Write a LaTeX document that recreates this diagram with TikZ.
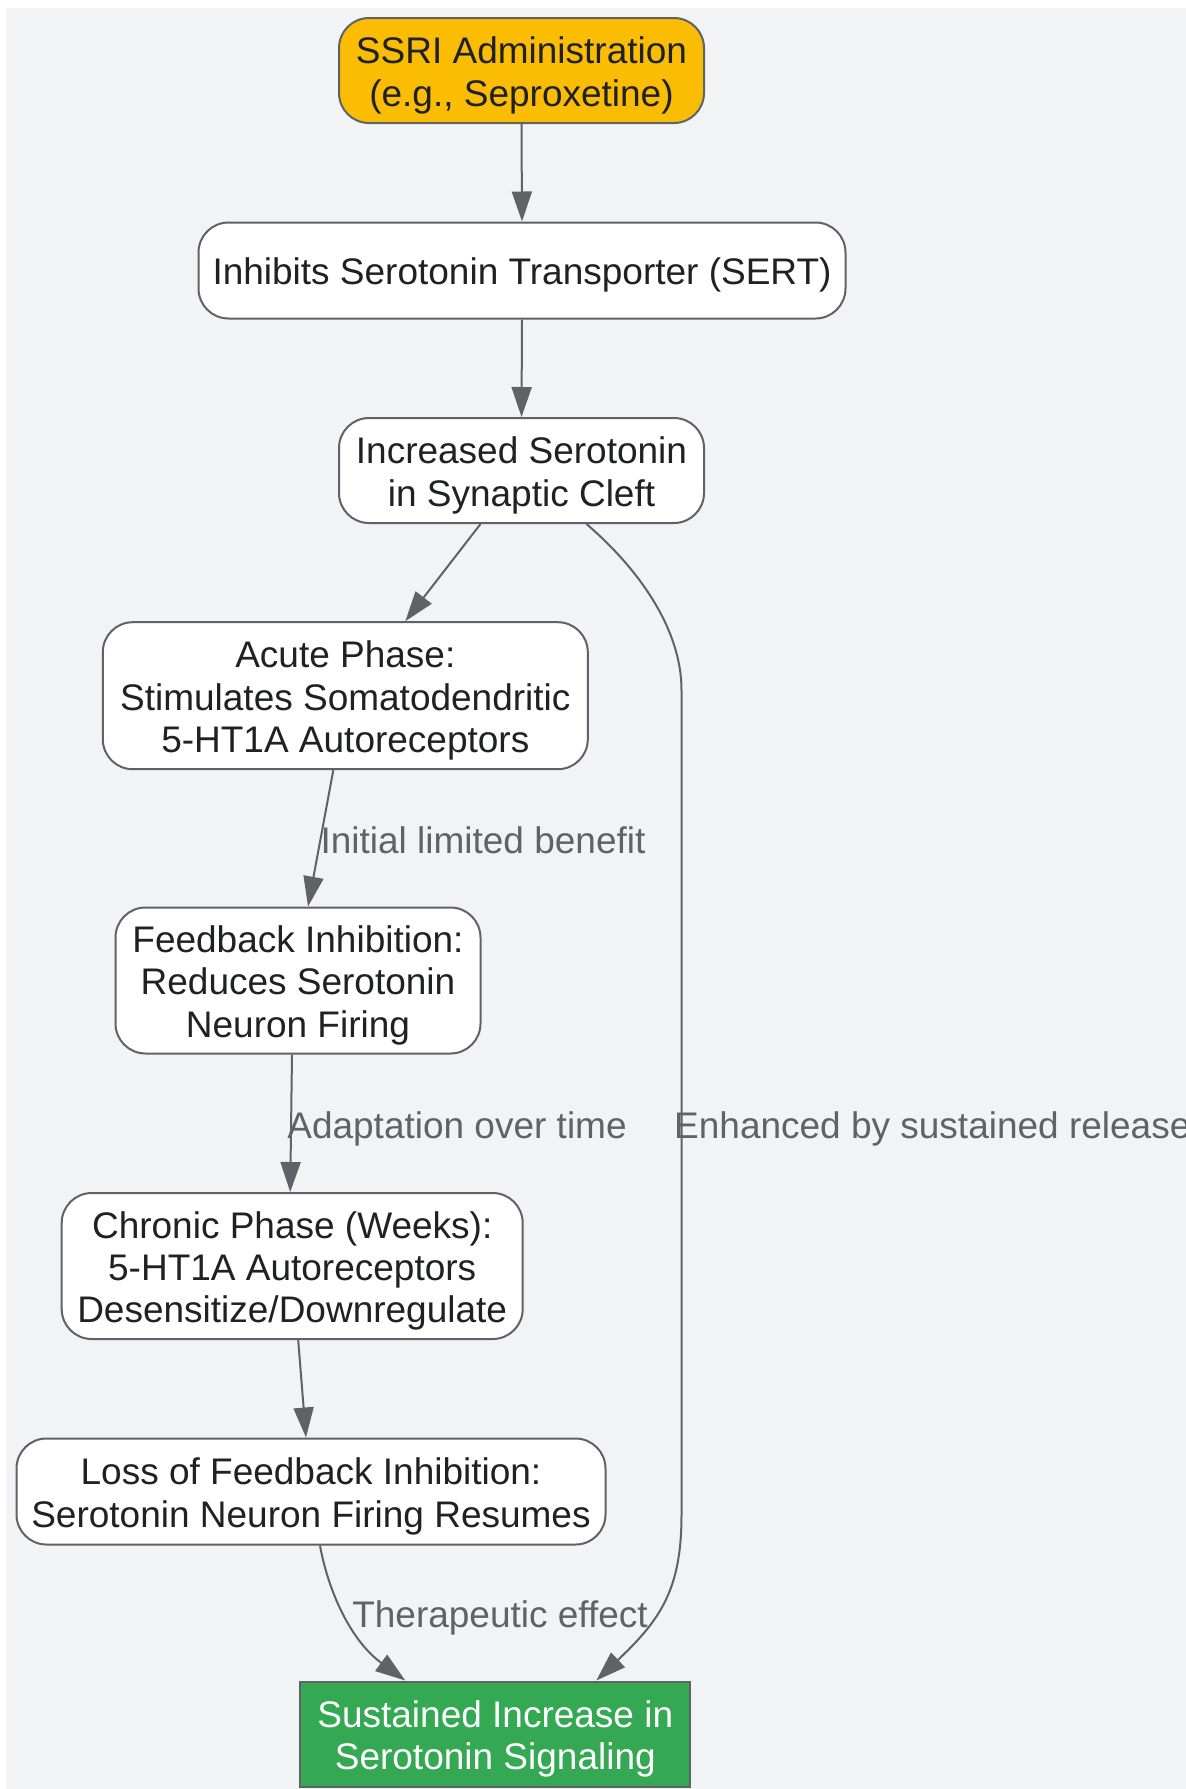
\documentclass[tikz,border=0pt]{standalone}
\usepackage{fontspec}
\setmainfont{Liberation Sans}
\usetikzlibrary{arrows.meta,calc}
\definecolor{bg}{HTML}{F1F3F4}
\definecolor{edgec}{HTML}{5F6368}
\definecolor{txt}{HTML}{202124}
\definecolor{ylw}{HTML}{FBBC04}
\definecolor{grn}{HTML}{34A853}
\newcommand\ntxt[1]{\raisebox{-6pt}[\height][\depth]{\begin{tabular}{@{}c@{}}#1\end{tabular}}}
\begin{document}
\begin{tikzpicture}[x=1pt,y=-1pt,
  box/.style={draw=edgec, line width=2pt, fill=white, rounded corners=30pt, align=center, inner sep=0pt, text=txt, font=\fontsize{37}{42.2}\selectfont},
  conn/.style={draw=edgec, line width=2pt, -{Triangle[length=30pt,width=20pt]}},
  elabel/.style={text=edgec, font=\fontsize{37}{42.2}\selectfont, inner sep=0pt}]
\useasboundingbox (0,0) rectangle (1186,1789);
\fill[white] (0,0) rectangle (1186,1789);
\fill[bg] (6,8) rectangle (1186,1789);

\node[box, fill=ylw, minimum width=365pt, minimum height=105pt] (n1) at (521.5,70.5) {\ntxt{SSRI Administration\\(e.g., Seproxetine)}};
\node[box, minimum width=647pt, minimum height=96pt] (n2) at (522,270.5) {\ntxt{Inhibits Serotonin Transporter (SERT)}};
\node[box, minimum width=365pt, minimum height=105pt] (n3) at (521.5,470.5) {\ntxt{Increased Serotonin\\in Synaptic Cleft}};
\node[box, minimum width=485pt, minimum height=147pt] (n4) at (345.3,695.7) {\ntxt{Acute Phase:\\Stimulates Somatodendritic\\5-HT1A Autoreceptors}};
\node[box, minimum width=365pt, minimum height=146pt] (n5) at (298,980.5) {\ntxt{Feedback Inhibition:\\Reduces Serotonin\\Neuron Firing}};
\node[box, minimum width=461pt, minimum height=146pt] (n6) at (292.2,1266) {\ntxt{Chronic Phase (Weeks):\\5-HT1A Autoreceptors\\Desensitize/Downregulate}};
\node[box, minimum width=589pt, minimum height=106pt] (n7) at (311,1491.5) {\ntxt{Loss of Feedback Inhibition:\\Serotonin Neuron Firing Resumes}};
\node[box, rounded corners=0pt, fill=grn, text=white, minimum width=390pt, minimum height=105pt] (n8) at (495.3,1734) {\ntxt{Sustained Increase in\\Serotonin Signaling}};

\draw[conn] (n1.south) -- (n2.north);
\draw[conn] (n2.south) -- (n3.north);
\draw[conn] ($(n3.south)+(-41,0)$) -- ($(n4.north)+(60,0)$);
\draw[conn] ($(n4.south)+(-12,0)$) -- ($(n5.north)+(10,0)$);
\draw[conn] ($(n5.south)+(-6,0)$) -- ($(n6.north)+(-2,0)$);
\draw[conn] ($(n6.south)+(6,0)$) -- ($(n7.north)+(-5,0)$);
\draw[conn] ($(n7.south)+(9,0)$) .. controls (328,1590) and (350,1640) .. ($(n8.north)+(-90,0)$);
\draw[conn] ($(n3.south)+(65,0)$) .. controls (640,570) and (681.5,630) .. (681.5,690) -- (681.5,1515) .. controls (681.5,1590) and (660,1620) .. ($(n8.north)+(101,0)$);

\node[elabel] (l1) at (483,840) {Initial limited benefit};
\node[elabel] (l2) at (457,1129) {Adaptation over time};
\node[elabel, anchor=west] (l3) at (674,1129) {Enhanced by sustained release};
\node[elabel] (l4) at (500,1618) {Therapeutic effect};
\end{tikzpicture}
\end{document}
